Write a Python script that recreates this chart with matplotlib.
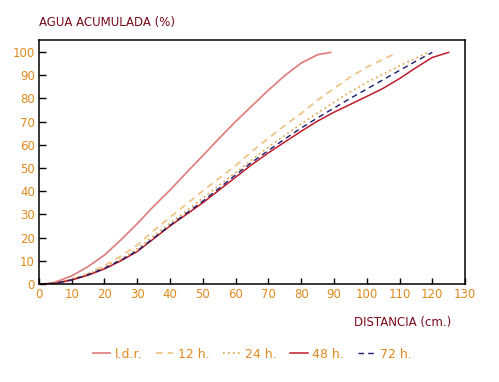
import numpy as np
import matplotlib.pyplot as plt

# distance (cm) and accumulated water (%)
x_ldr = [0, 4, 10, 15, 20, 25, 30, 35, 40, 45, 50, 55, 60, 65, 70, 75, 80, 85, 89]
y_ldr = [0, 0.3, 3.5, 7.5, 12.5, 19, 26, 33.5, 40.5, 48, 55.3, 62.8, 70, 76.8, 83.5, 89.8, 95.2, 98.8, 99.8]

x_12 = [0, 5, 10, 15, 20, 25, 30, 35, 40, 45, 50, 55, 60, 65, 70, 75, 80, 85, 90, 95, 100, 105, 109]
y_12 = [0, 0.3, 2, 4.5, 8, 12, 16.8, 23, 28.8, 34.4, 40.1, 45.6, 51, 57.2, 62.8, 68.3, 73.5, 79.2, 84.2, 89.2, 93.4, 96.8, 99.5]

x_24 = [0, 5, 10, 15, 20, 25, 30, 35, 40, 45, 50, 55, 60, 65, 70, 75, 80, 85, 90, 95, 100, 105, 110, 115, 119]
y_24 = [0, 0.3, 2, 4.3, 7.3, 10.8, 15.2, 20.7, 26.2, 31.5, 37, 42.5, 48, 53.5, 59, 64, 69, 73.7, 78.3, 82.8, 86.8, 90.4, 94, 97.3, 100]

x_48 = [0, 5, 10, 15, 20, 25, 30, 35, 40, 45, 50, 55, 60, 65, 70, 75, 80, 85, 90, 95, 100, 105, 110, 115, 120, 125]
y_48 = [0, 0.3, 1.7, 3.8, 6.5, 10, 14, 19.5, 25, 30, 35, 40.5, 46, 51.5, 56.5, 61.2, 65.8, 70.2, 74, 77.4, 80.8, 84.3, 88.5, 93.2, 97.6, 99.8]

x_72 = [0, 5, 10, 15, 20, 25, 30, 35, 40, 45, 50, 55, 60, 65, 70, 75, 80, 85, 90, 95, 100, 105, 110, 115, 120]
y_72 = [0, 0.3, 1.8, 4, 6.8, 10.3, 14.3, 19.8, 25.3, 30.5, 35.7, 41.3, 47, 52.5, 57.5, 62.5, 67.2, 71.6, 75.8, 80, 84, 88, 92, 96, 99.8]

xticks = list(range(0, 131, 10))
yticks = list(range(0, 101, 10))

orange = '#e08a1e'
darkred = '#7a0a1a'

fig = plt.figure(figsize=(4.99, 3.82), dpi=100)
ax = fig.add_axes([0.078, 0.2565, 0.854, 0.638])

ax.plot(x_ldr, y_ldr, color='#e07a7a', lw=1.2, label='l.d.r.')
ax.plot(x_12, y_12, color='#f0c080', lw=1.2, ls=(0, (4, 3)), label='12 h.')
ax.plot(x_24, y_24, color='#e0a040', lw=1.2, ls=(0, (1, 2)), label='24 h.')
ax.plot(x_48, y_48, color='#c01c2c', lw=1.1, label='48 h.')
ax.plot(x_72, y_72, color='#1a1a6e', lw=1.0, ls=(0, (4, 3)), label='72 h.')

ax.set_xlim(0, 130)
ax.set_ylim(0, 105)
ax.set_xticks(xticks)
ax.set_yticks(yticks)
ax.tick_params(direction='in', length=5, width=1, labelsize=8.5,
               labelcolor=orange, pad=3)
ax.tick_params(axis='x', length=4)
for s in ax.spines.values():
    s.set_linewidth(1.1)

fig.text(0.078, 0.942, 'AGUA ACUMULADA (%)', color=darkred, fontsize=8.5,
         ha='left', va='center')
fig.text(0.905, 0.155, 'DISTANCIA (cm.)', color=darkred, fontsize=8.5,
         ha='right', va='center')

leg = fig.legend(loc='center', bbox_to_anchor=(0.505, 0.073), ncol=5,
                 frameon=False, fontsize=9, handlelength=1.4,
                 handletextpad=0.35, columnspacing=1.1)
for t in leg.get_texts():
    t.set_color(orange)

plt.savefig('out.png', dpi=100)
